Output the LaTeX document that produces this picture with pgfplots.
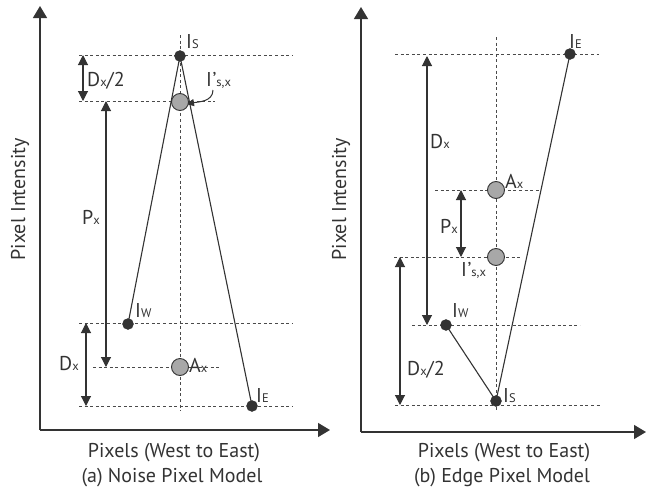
\documentclass[border=0pt]{standalone}
\usepackage{pgfplots}
\pgfplotsset{compat=1.18}
\usepackage{fontspec}
\setmainfont{PT Sans}
\usetikzlibrary{arrows.meta}
\definecolor{ink}{HTML}{333333}
\definecolor{guidec}{HTML}{4A4A4A}
\definecolor{ballc}{HTML}{A8A8A8}
\newcommand{\lbl}{\fontsize{20}{20}\selectfont}
\newcommand{\sm}[1]{{\fontsize{12.5}{12.5}\selectfont #1}}
\pgfplotsset{
 panel/.style={scale only axis, axis lines=left, ticks=none, clip=false,
   axis line style={line width=1.3pt, ink, -{Triangle[length=12pt,width=14pt]}}},
 guide/.style={guidec, line width=0.9pt, dash pattern=on 3pt off 2.6pt, no marks},
 curve/.style={ink, line width=1.1pt, no marks},
 pt/.style={only marks, mark=*, mark size=5.5pt, mark options={fill=ink, draw=ink, solid}},
 ball/.style={only marks, mark=*, mark size=8.5pt, mark options={fill=ballc, draw=ink, line width=0.9pt, solid}},
}
\tikzset{dim/.style={ink, line width=1.1pt, {Triangle[length=10pt,width=10pt]}-{Triangle[length=10pt,width=10pt]}},
  lab/.style={anchor=base west, inner sep=0pt, font=\lbl, text=ink}}
\begin{document}
\begin{tikzpicture}
\useasboundingbox (0pt,0pt) rectangle (649pt,-496pt);
% ---------------- (a) Noise Pixel Model ----------------
\begin{axis}[panel, at={(40pt,-430pt)}, anchor=south west, width=290pt, height=424pt,
  xmin=40, xmax=330, ymin=-430, ymax=-6]
\addplot[guide] coordinates {(79,-55) (293,-55)};
\addplot[guide] coordinates {(79,-101) (215,-101)};
\addplot[guide] coordinates {(79,-323) (293,-323)};
\addplot[guide] coordinates {(93,-367) (220,-367)};
\addplot[guide] coordinates {(79,-406) (293,-406)};
\addplot[guide] coordinates {(180,-35) (180,-411)};
\addplot[curve] coordinates {(128,-324) (180,-56) (252,-406)};
\addplot[pt] coordinates {(180,-56) (128,-324) (252,-406)};
\addplot[ball] coordinates {(180,-102) (180,-367)};
\draw[dim] (axis cs:83,-55) -- (axis cs:83,-101);
\draw[dim] (axis cs:106,-101) -- (axis cs:106,-367);
\draw[dim] (axis cs:86,-323) -- (axis cs:86,-406);
\draw[ink, line width=1pt, -{Triangle[length=8pt,width=7pt]}] (axis cs:213,-90) to[out=-90,in=10] (axis cs:186,-104);
\node[lab] at (axis cs:186,-48) {I\sm{S}};
\node[lab] at (axis cs:206,-86) {I\kern0.5pt’\sm{s,x}};
\node[lab] at (axis cs:87,-86) {D\sm{x}/2};
\node[lab] at (axis cs:82,-224) {P\sm{x}};
\node[lab] at (axis cs:135,-317) {I\sm{W}};
\node[lab] at (axis cs:59,-370) {D\sm{x}};
\node[lab] at (axis cs:189,-372) {A\sm{x}};
\node[lab] at (axis cs:256,-402) {I\sm{E}};
\node[anchor=base, font=\lbl, text=ink, rotate=90, inner sep=0pt] at (axis cs:25,-199.5) {Pixel Intensity};
\node[anchor=base, font=\lbl, text=ink, inner sep=0pt] at (axis cs:174,-457) {Pixels (West to East)};
\node[anchor=base, font=\lbl, text=ink, inner sep=0pt] at (axis cs:172,-482) {(a) Noise Pixel Model};
\end{axis}
% ---------------- (b) Edge Pixel Model ----------------
\begin{axis}[panel, at={(361pt,-432pt)}, anchor=south west, width=285pt, height=425pt,
  xmin=361, xmax=646, ymin=-432, ymax=-7]
\addplot[guide] coordinates {(395,-54) (599,-54)};
\addplot[guide] coordinates {(435,-190) (540,-190)};
\addplot[guide] coordinates {(394,-257) (520,-257)};
\addplot[guide] coordinates {(412,-325) (580,-325)};
\addplot[guide] coordinates {(395,-405) (602,-405)};
\addplot[guide] coordinates {(496,-37) (496,-410)};
\addplot[curve] coordinates {(446,-325) (496,-401) (570,-54)};
\addplot[pt] coordinates {(570,-54) (446,-325) (496,-401)};
\addplot[ball] coordinates {(496,-190) (496,-257)};
\draw[dim] (axis cs:427,-56) -- (axis cs:427,-325);
\draw[dim] (axis cs:461,-190) -- (axis cs:461,-257);
\draw[dim] (axis cs:400,-257) -- (axis cs:400,-405);
\node[lab] at (axis cs:569,-48) {I\sm{E}};
\node[lab] at (axis cs:430,-148) {D\sm{x}};
\node[lab] at (axis cs:505,-188) {A\sm{x}};
\node[lab] at (axis cs:440,-233) {P\sm{x}};
\node[lab] at (axis cs:461,-276) {I\kern0.5pt’\sm{s,x}};
\node[lab] at (axis cs:452,-317) {I\sm{W}};
\node[lab] at (axis cs:407,-375) {D\sm{x}/2};
\node[lab] at (axis cs:503,-402) {I\sm{S}};
\node[anchor=base, font=\lbl, text=ink, rotate=90, inner sep=0pt] at (axis cs:346,-199.5) {Pixel Intensity};
\node[anchor=base, font=\lbl, text=ink, inner sep=0pt] at (axis cs:504,-457) {Pixels (West to East)};
\node[anchor=base, font=\lbl, text=ink, inner sep=0pt] at (axis cs:502,-482) {(b) Edge Pixel Model};
\end{axis}
\end{tikzpicture}
\end{document}
